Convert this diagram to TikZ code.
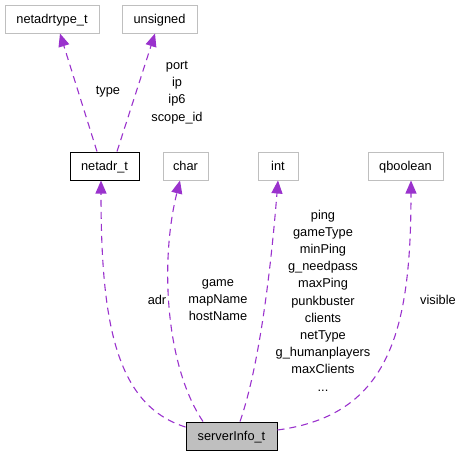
\documentclass[tikz,border=0pt]{standalone}
\usepackage{fontspec}
\setmainfont{Liberation Sans}
\usepackage{xcolor}
\usetikzlibrary{arrows.meta}
\definecolor{edgepurple}{HTML}{9A32CD}
\definecolor{boxgray}{HTML}{BFBFBF}

\begin{document}
\begin{tikzpicture}[x=1pt, y=-1pt, font=\fontsize{12.8}{17.2}\selectfont, >={Triangle[length=13pt, width=11pt]},
  box/.style={draw=boxgray, line width=1pt, inner sep=0pt, minimum height=28pt, text height=9.5pt, text depth=1pt, fill=white},
  doc/.style={box, draw=black},
  cur/.style={box, draw=black, fill=boxgray},
  link/.style={->, draw=edgepurple, line width=1.1pt, dash pattern=on 7pt off 5pt},
  lbl/.style={align=center, inner sep=0pt}]
\useasboundingbox (0,0) rectangle (463,456);
\node[box, minimum width=94pt] (netadrtype) at (52,19) {netadrtype\_t};
\node[box, minimum width=75pt] (unsigned) at (159.5,19) {unsigned};
\node[doc, minimum width=69pt] (netadr) at (104.5,166) {netadr\_t};
\node[box, minimum width=45pt] (char) at (185.5,166) {char};
\node[box, minimum width=40pt] (int) at (278,166) {int};
\node[box, minimum width=75pt] (qboolean) at (405.5,166) {qboolean};
\node[cur, minimum width=91pt] (server) at (231.5,436) {serverInfo\_t};
% member labels
\node[lbl] (ltype) at (108,92) {type};
\node[lbl] (lport) at (177,92.5) {port\\ip\\ip6\\scope\_id};
\node[lbl] (ladr) at (157,300) {adr};
\node[lbl] (lchar) at (218,300) {game\\mapName\\hostName};
\node[lbl] (lint) at (323,300.5) {ping\\gameType\\minPing\\g\_needpass\\maxPing\\punkbuster\\clients\\netType\\g\_humanplayers\\maxClients\\...};
\node[lbl] (lvis) at (438,300) {visible};
\draw[link] ([xshift=-7.5pt]netadr.north) -- ([xshift=8pt]netadrtype.south);
\draw[link] ([xshift=12.5pt]netadr.north) -- ([xshift=-4.5pt]unsigned.south);
\draw[link] ([yshift=9pt]server.west) .. controls (115,405) and (101,320) .. ([xshift=-3.5pt]netadr.south);
\draw[link] ([xshift=-28.5pt]server.north) .. controls (165,365) and (160,260) .. ([xshift=-5.5pt]char.south);
\draw[link] ([xshift=8.5pt]server.north) .. controls (258,370) and (270,280) .. (int.south);
\draw[link] ([yshift=6pt]server.east) .. controls (390,415) and (411,330) .. ([xshift=5.5pt]qboolean.south);
\end{tikzpicture}
\end{document}
